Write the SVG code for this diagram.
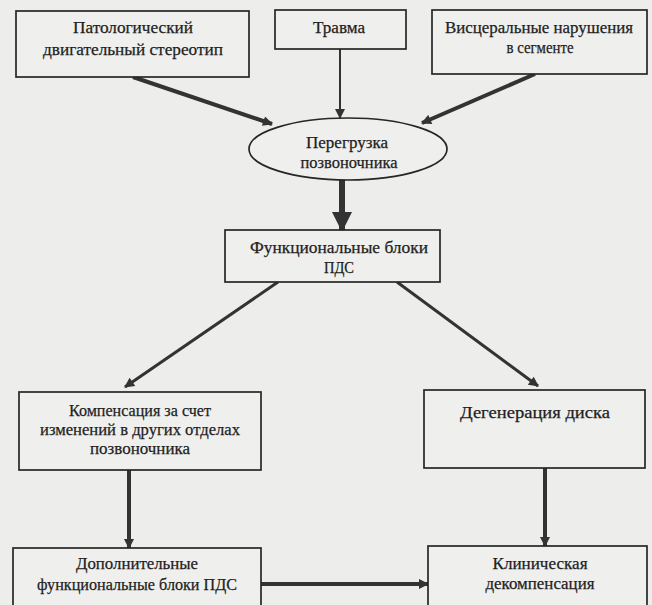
<svg xmlns="http://www.w3.org/2000/svg" width="652" height="605" viewBox="0 0 652 605">
<style>
.box{fill:#efefed;stroke:#262626;stroke-width:1.7}
.t{font-family:"Liberation Serif","Times New Roman",serif;font-size:16.5px;fill:#1e1e1e;text-anchor:middle;stroke:#1e1e1e;stroke-width:0.25}
.c{stroke:#333;fill:none}
</style>
<defs>
<marker id="ah" viewBox="0 0 10 10" refX="9" refY="5" markerWidth="12" markerHeight="10" markerUnits="userSpaceOnUse" orient="auto"><path d="M0,0 L10,5 L0,10 z" fill="#333"/></marker>
<marker id="big" viewBox="0 0 10 10" refX="9" refY="5" markerWidth="20" markerHeight="20" markerUnits="userSpaceOnUse" orient="auto"><path d="M0,0 L10,5 L0,10 z" fill="#333"/></marker>
</defs>
<rect width="652" height="605" fill="#ededeb"/>
<g id="connectors">
<line class="c" x1="133" y1="77" x2="272" y2="124" stroke-width="4" marker-end="url(#ah)"/>
<line class="c" x1="340" y1="49" x2="340" y2="118" stroke-width="2" marker-end="url(#ah)"/>
<line class="c" x1="535" y1="74" x2="422" y2="123" stroke-width="4" marker-end="url(#ah)"/>
<line class="c" x1="342" y1="180" x2="342" y2="230" stroke-width="6" marker-end="url(#big)"/>
<line class="c" x1="278" y1="282" x2="125" y2="387" stroke-width="3" marker-end="url(#ah)"/>
<line class="c" x1="397" y1="282" x2="538" y2="386" stroke-width="3" marker-end="url(#ah)"/>
<line class="c" x1="129" y1="470" x2="129" y2="548" stroke-width="4" marker-end="url(#ah)"/>
<line class="c" x1="545" y1="468" x2="545" y2="546" stroke-width="4" marker-end="url(#ah)"/>
<line class="c" x1="261" y1="584" x2="428" y2="584" stroke-width="4" marker-end="url(#ah)"/>
</g>
<g id="n1"><rect class="box" x="16" y="11" width="233" height="66"/><text class="t" x="133" y="33" textLength="120" lengthAdjust="spacingAndGlyphs">Патологический</text><text class="t" x="133" y="55" textLength="180" lengthAdjust="spacingAndGlyphs">двигательный стереотип</text></g>
<g id="n2"><rect class="box" x="275" y="10" width="131" height="39"/><text class="t" x="339" y="33" textLength="52" lengthAdjust="spacingAndGlyphs">Травма</text></g>
<g id="n3"><rect class="box" x="432" y="10" width="215" height="64"/><text class="t" x="539" y="33" textLength="188" lengthAdjust="spacingAndGlyphs">Висцеральные нарушения</text><text class="t" x="540" y="53" textLength="67" lengthAdjust="spacingAndGlyphs">в сегменте</text></g>
<g id="n4"><ellipse class="box" cx="348" cy="149" rx="99" ry="31"/><text class="t" x="347" y="148" textLength="82" lengthAdjust="spacingAndGlyphs">Перегрузка</text><text class="t" x="349" y="168" textLength="97" lengthAdjust="spacingAndGlyphs">позвоночника</text></g>
<g id="n5"><rect class="box" x="225" y="230" width="215" height="52"/><text class="t" x="339" y="253" textLength="178" lengthAdjust="spacingAndGlyphs">Функциональные блоки</text><text class="t" x="339" y="273" textLength="30" lengthAdjust="spacingAndGlyphs">ПДС</text></g>
<g id="n6"><rect class="box" x="19" y="392" width="242" height="78"/><text class="t" x="140" y="416" textLength="142" lengthAdjust="spacingAndGlyphs">Компенсация за счет</text><text class="t" x="140" y="435" textLength="200" lengthAdjust="spacingAndGlyphs">изменений в других отделах</text><text class="t" x="140" y="454" textLength="100" lengthAdjust="spacingAndGlyphs">позвоночника</text></g>
<g id="n7"><rect class="box" x="424" y="390" width="221" height="78"/><text class="t" x="535" y="418" textLength="150" lengthAdjust="spacingAndGlyphs">Дегенерация диска</text></g>
<g id="n8"><rect class="box" x="13" y="548" width="248" height="70"/><text class="t" x="137" y="569" textLength="122" lengthAdjust="spacingAndGlyphs">Дополнительные</text><text class="t" x="137" y="590" textLength="200" lengthAdjust="spacingAndGlyphs">функциональные блоки ПДС</text></g>
<g id="n9"><rect class="box" x="428" y="546" width="219" height="70"/><text class="t" x="540" y="569" textLength="95" lengthAdjust="spacingAndGlyphs">Клиническая</text><text class="t" x="540" y="589" textLength="109" lengthAdjust="spacingAndGlyphs">декомпенсация</text></g>
</svg>
